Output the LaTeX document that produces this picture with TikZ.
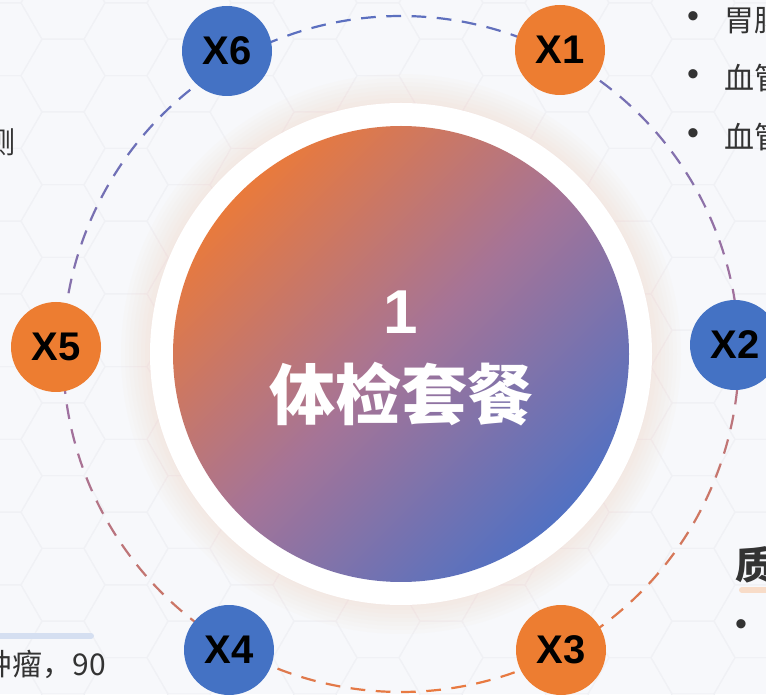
\documentclass[tikz,border=0pt]{standalone}
\usepackage{fontspec}
\setmainfont{Liberation Sans}
\newfontfamily\cjk{Noto Sans CJK SC}
\definecolor{bgPaper}{HTML}{F7F8FB}
\definecolor{hexLine}{HTML}{F0F1F5}
\definecolor{glowPeach}{HTML}{F3D2BF}
\definecolor{xBlue}{HTML}{4472C4}
\definecolor{xOrange}{HTML}{ED7D31}
\definecolor{gOrange}{HTML}{E97A3C}
\definecolor{gMid}{HTML}{A57497}
\definecolor{gBlue}{HTML}{5271C2}
\definecolor{dBlue}{HTML}{5B70C0}
\definecolor{dMid}{HTML}{A0719F}
\definecolor{dOrange}{HTML}{E97A40}
\definecolor{txtDark}{HTML}{333333}
\definecolor{barBlue}{HTML}{D5DFF1}
\definecolor{lineSand}{HTML}{F8DCC8}
\usepackage{tikz}

\begin{document}
\begin{tikzpicture}[x=1pt, y=1pt,
  xdot/.style={circle, minimum size=90pt, inner sep=0pt, text=black,
    font=\fontsize{40}{40}\selectfont\bfseries},
  side/.style={inner sep=0pt, text=txtDark, font=\cjk\fontsize{30}{30}\selectfont},
  bul/.style={inner sep=0pt, text=txtDark, font=\fontsize{34}{34}\selectfont}
]
  \useasboundingbox (0,0) rectangle (766,694);
  \clip (0,0) rectangle (766,694);
  \fill[bgPaper] (0,0) rectangle (766,694);
  \foreach \i in {0,...,13}
    \foreach \j in {0,...,10}
      \draw[hexLine, line width=1pt] ({63*\i}, {72.75*\j + mod(\i,2)*36.4})
        +(0:42) -- +(60:42) -- +(120:42) -- +(180:42) -- +(240:42) -- +(300:42) -- cycle;

  % glow, ring and centre disc
  \foreach \r in {252,256,...,280}
    \fill[glowPeach, opacity=0.05] (401,340) circle (\r);
  \node[circle, fill=white, minimum size=502pt, inner sep=0pt] (ring) at (401,340) {};
  \node[circle, minimum size=456pt, inner sep=0pt, top color=gOrange, bottom color=gBlue,
    middle color=gMid, shading angle=45] (pkg) at (401,340) {};
  \node[white, font=\fontsize{62}{62}\selectfont\bfseries] (num) at (401,382) {1};
  \node[white, font=\cjk\fontsize{66}{66}\selectfont\bfseries] (title) at (401,300) {体检套餐};

  % dashed orbit, blue at the top and orange at the bottom
  \foreach \k in {0,...,83} {
    \pgfmathsetmacro\a{\k*30/7}
    \pgfmathsetmacro\s{cos(\a-100)}
    \pgfmathtruncatemacro\p{abs(\s)*100}
    \ifdim\s pt>0pt \colorlet{dc}{dBlue!\p!dMid}\else\colorlet{dc}{dOrange!\p!dMid}\fi
    \draw[dc, line width=2.2pt, shift={(401,340)}] (\a:338) arc[start angle=\a, end angle=\a+2.5, radius=338];
  }

  \node[xdot, fill=xOrange] (x1) at (560,644) {X1};
  \node[xdot, fill=xBlue] (x2) at (735,349) {X2};
  \node[xdot, fill=xOrange] (x3) at (561,44) {X3};
  \node[xdot, fill=xBlue] (x4) at (229,44) {X4};
  \node[xdot, fill=xOrange] (x5) at (56,347) {X5};
  \node[xdot, fill=xBlue] (x6) at (227,643) {X6};

  % neighbouring text of the slide
  \node[bul] (b1) at (693,674) {•};
  \node[side, anchor=west] (t1) at (724,674) {胃肠镜};
  \node[bul] (b2) at (693,616) {•};
  \node[side, anchor=west] (t2) at (724,616) {血管};
  \node[bul] (b3) at (693,557) {•};
  \node[side, anchor=west] (t3) at (724,557) {血管};
  \node[side, anchor=east] (t4) at (16,552) {测};
  \draw[barBlue, line width=6pt, line cap=round] (-10,58) -- (91,58);
  \node[side, anchor=east] (t5) at (106,30) {肿瘤，90};
  \node[side, anchor=west, font=\cjk\fontsize{38}{38}\selectfont\bfseries] (t6) at (735,129) {质};
  \draw[lineSand, line width=6pt, line cap=round] (742,104) -- (780,104);
  \node[bul] (b4) at (741,66) {•};
\end{tikzpicture}
\end{document}
